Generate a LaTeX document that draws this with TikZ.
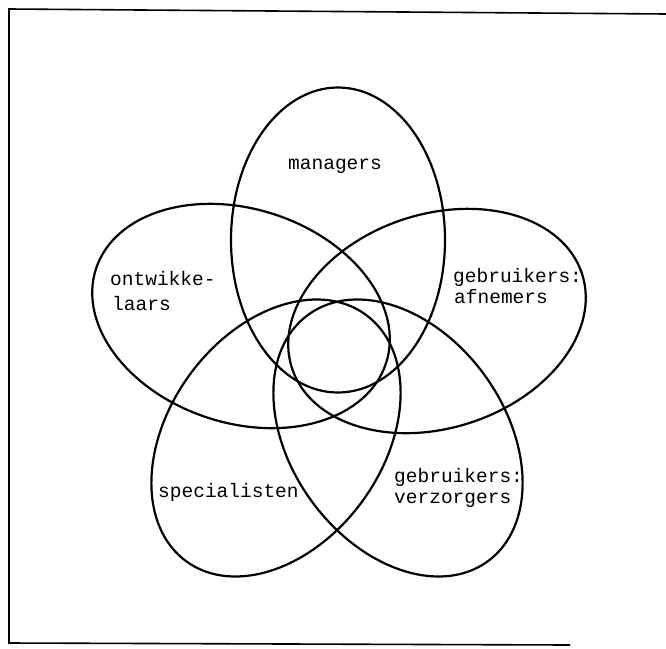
\documentclass[tikz,border=0pt]{standalone}
\usepackage{fontspec}
\newfontfamily\typew{Liberation Mono}
\begin{document}
\begin{tikzpicture}[x=1pt,y=-1pt,
  ell/.style={line width=2.2pt, black},
  frame/.style={line width=1.6pt, black},
  lbl/.style={anchor=base west, inner sep=0pt, font=\typew\fontsize{19.5}{25}\selectfont}]
\useasboundingbox (0,0) rectangle (666,648);
% frame
\coordinate (ftl) at (9,9);
\coordinate (ftr) at (666,14);
\coordinate (fbl) at (9,643);
\coordinate (fbr) at (570,645);
\draw[frame] (ftr) -- (ftl) -- (fbl) -- (fbr);
% ellipses
\coordinate (cman) at (338,240);
\coordinate (cafn) at (437,321);
\coordinate (cver) at (398,438);
\coordinate (cspe) at (276,438);
\coordinate (cont) at (241,316);
\draw[ell] (cman) ellipse [x radius=107pt, y radius=152.5pt];
\draw[ell, rotate around={-72:(cafn)}] (cafn) ellipse [x radius=107pt, y radius=152.5pt];
\draw[ell, rotate around={-144:(cver)}] (cver) ellipse [x radius=107pt, y radius=152.5pt];
\draw[ell, rotate around={144:(cspe)}] (cspe) ellipse [x radius=107pt, y radius=152.5pt];
\draw[ell, rotate around={72:(cont)}] (cont) ellipse [x radius=107pt, y radius=152.5pt];
% labels
\node[lbl] (tman) at (288,169) {managers};
\node[lbl] (tont1) at (110,285) {ontwikke-};
\node[lbl] (tont2) at (112,310) {laars};
\node[lbl] (tafn1) at (453,282) {gebruikers:};
\node[lbl] (tafn2) at (454,303) {afnemers};
\node[lbl] (tspe) at (158,497) {specialisten};
\node[lbl] (tver1) at (394,482) {gebruikers:};
\node[lbl] (tver2) at (394,503) {verzorgers};
\end{tikzpicture}
\end{document}
